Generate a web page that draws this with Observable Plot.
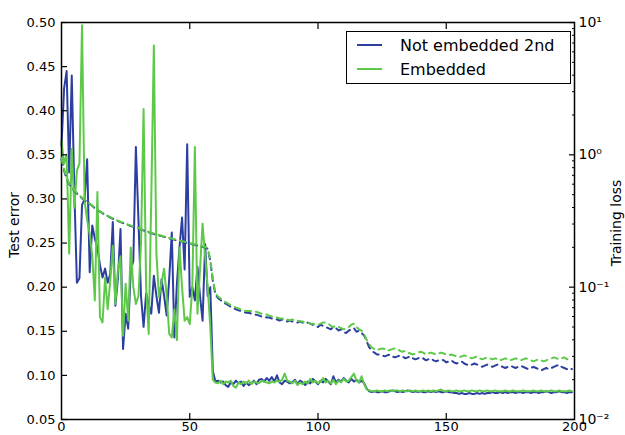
<!DOCTYPE html>
<html><head><meta charset="utf-8">
<script src="https://cdn.jsdelivr.net/npm/d3@7"></script>
<script src="https://cdn.jsdelivr.net/npm/@observablehq/plot@0.6"></script>
<style>
body{margin:0;background:#fff;}
#wrap{position:relative;width:625px;height:435px;font-family:"DejaVu Sans",sans-serif;color:#000;}
#wrap svg{position:absolute;left:0;top:0;overflow:visible;}
#legend{position:absolute;left:346px;top:31px;width:223px;height:51px;border:1px solid #000;background:#fff;z-index:5;font-size:16px;}
#legend .row{position:absolute;left:0;height:20px;display:flex;align-items:center;}
#legend .sw{width:25px;height:2.2px;margin-left:10px;margin-right:18px;}
</style></head><body>
<div id="wrap"></div>
<script>
const seriesNames = ["Not embedded 2nd", "Embedded"];
const colors = ["#2c3fa0", "#5ec949"];
const epochs = d3.range(200);

// Test error, Not embedded 2nd (solid blue)
const testErrNotEmb = [
0.36,0.425,0.445,0.33,0.44,0.31,0.205,0.21,0.293,0.30,
0.345,0.217,0.27,0.255,0.245,0.225,0.211,0.221,0.205,0.215,
0.274,0.179,0.21,0.266,0.13,0.17,0.153,0.219,0.23,0.359,
0.276,0.19,0.155,0.193,0.18,0.17,0.213,0.19,0.171,0.209,
0.19,0.168,0.21,0.262,0.143,0.204,0.245,0.279,0.22,0.362,
0.189,0.2,0.185,0.223,0.19,0.162,0.249,0.19,0.2,0.105,
0.093,0.094,0.092,0.093,0.089,0.087,0.092,0.09,0.094,0.091,
0.093,0.088,0.092,0.089,0.091,0.094,0.09,0.095,0.096,0.093,
0.097,0.094,0.098,0.093,0.1,0.092,0.09,0.094,0.093,0.091,
0.092,0.095,0.09,0.094,0.092,0.089,0.093,0.091,0.096,0.093,
0.09,0.094,0.092,0.096,0.093,0.09,0.099,0.092,0.095,0.093,
0.097,0.094,0.092,0.096,0.093,0.095,0.092,0.094,0.091,0.085,
0.082,0.081,0.082,0.081,0.081,0.082,0.081,0.081,0.082,0.083,
0.082,0.081,0.082,0.081,0.082,0.083,0.082,0.081,0.082,0.081,
0.082,0.081,0.081,0.082,0.081,0.082,0.081,0.082,0.081,0.081,
0.082,0.081,0.081,0.080,0.080,0.079,0.080,0.079,0.079,0.080,
0.079,0.079,0.080,0.079,0.080,0.079,0.080,0.080,0.081,0.080,
0.080,0.081,0.080,0.081,0.080,0.081,0.081,0.080,0.081,0.081,
0.080,0.081,0.081,0.080,0.081,0.081,0.080,0.081,0.081,0.082,
0.081,0.080,0.081,0.081,0.082,0.081,0.081,0.080,0.081,0.081];

// Test error, Embedded (solid green)
const testErrEmb = [
0.366,0.34,0.35,0.238,0.357,0.29,0.332,0.34,0.497,0.298,
0.276,0.26,0.235,0.185,0.308,0.166,0.16,0.211,0.175,0.207,
0.247,0.181,0.22,0.235,0.145,0.204,0.162,0.245,0.2,0.181,
0.19,0.25,0.402,0.2,0.147,0.3,0.474,0.238,0.189,0.205,
0.221,0.19,0.147,0.143,0.175,0.14,0.245,0.2,0.162,0.166,
0.158,0.2,0.359,0.17,0.22,0.272,0.235,0.2,0.155,0.095,
0.092,0.091,0.094,0.09,0.093,0.092,0.094,0.088,0.086,0.092,
0.09,0.093,0.091,0.094,0.09,0.093,0.092,0.091,0.094,0.093,
0.092,0.091,0.093,0.092,0.094,0.093,0.095,0.102,0.094,0.093,
0.091,0.094,0.089,0.092,0.09,0.093,0.091,0.096,0.092,0.094,
0.091,0.093,0.097,0.092,0.094,0.091,0.095,0.09,0.094,0.092,
0.096,0.093,0.094,0.098,0.102,0.094,0.092,0.099,0.09,0.084,
0.083,0.082,0.082,0.083,0.082,0.082,0.083,0.082,0.083,0.082,
0.083,0.083,0.082,0.083,0.082,0.082,0.083,0.082,0.083,0.082,
0.082,0.083,0.082,0.083,0.082,0.083,0.082,0.083,0.084,0.082,
0.082,0.083,0.082,0.082,0.083,0.082,0.082,0.083,0.082,0.082,
0.083,0.082,0.082,0.083,0.082,0.082,0.083,0.082,0.082,0.083,
0.082,0.082,0.082,0.083,0.082,0.082,0.083,0.082,0.082,0.082,
0.083,0.082,0.082,0.082,0.083,0.082,0.082,0.083,0.082,0.082,
0.082,0.083,0.082,0.082,0.083,0.082,0.082,0.082,0.083,0.082];

// Training loss, Not embedded 2nd (dashed blue)
const trainLossNotEmb = [
0.93,0.76,0.66,0.6,0.565,0.535,0.51,0.49,0.47,0.455,
0.44,0.425,0.41,0.395,0.382,0.372,0.362,0.352,0.344,0.336,
0.329,0.322,0.316,0.31,0.305,0.3,0.295,0.29,0.286,0.282,
0.278,0.273,0.268,0.264,0.26,0.256,0.252,0.249,0.246,0.243,
0.24,0.237,0.234,0.231,0.228,0.225,0.223,0.221,0.218,0.216,
0.214,0.211,0.209,0.206,0.204,0.202,0.199,0.195,0.158,0.112,
0.088,0.083,0.08,0.077,0.075,0.073,0.071,0.07,0.068,0.067,
0.066,0.065,0.064,0.064,0.063,0.062,0.062,0.061,0.06,0.06,
0.059,0.059,0.058,0.058,0.057,0.056,0.057,0.056,0.055,0.056,
0.055,0.055,0.054,0.055,0.054,0.053,0.054,0.053,0.052,0.051,
0.05,0.052,0.051,0.05,0.049,0.048,0.05,0.049,0.047,0.048,
0.046,0.045,0.047,0.048,0.049,0.046,0.047,0.045,0.043,0.039,
0.035,0.033,0.032,0.031,0.031,0.0305,0.030,0.0305,0.031,0.030,
0.0295,0.030,0.0305,0.030,0.029,0.0295,0.030,0.029,0.0285,0.029,
0.0295,0.029,0.028,0.0285,0.029,0.028,0.0275,0.028,0.0285,0.028,
0.027,0.0275,0.028,0.027,0.0265,0.027,0.0275,0.0265,0.026,0.0255,
0.026,0.0265,0.026,0.0255,0.025,0.0255,0.026,0.0255,0.025,0.0255,
0.026,0.0255,0.025,0.0245,0.025,0.0255,0.025,0.0245,0.025,0.0255,
0.025,0.0245,0.024,0.0245,0.025,0.0245,0.024,0.0235,0.024,0.0245,
0.024,0.0245,0.025,0.0255,0.026,0.025,0.0245,0.024,0.0245,0.024];

// Training loss, Embedded (dashed green)
const trainLossEmb = [
0.95,0.78,0.67,0.61,0.57,0.54,0.515,0.494,0.474,0.458,
0.443,0.428,0.413,0.398,0.385,0.374,0.364,0.354,0.346,0.338,
0.331,0.324,0.318,0.312,0.307,0.302,0.297,0.292,0.288,0.284,
0.28,0.275,0.27,0.266,0.262,0.258,0.254,0.251,0.248,0.245,
0.242,0.239,0.236,0.233,0.23,0.227,0.225,0.222,0.22,0.218,
0.216,0.213,0.211,0.208,0.206,0.204,0.201,0.198,0.162,0.115,
0.09,0.085,0.082,0.079,0.077,0.075,0.073,0.072,0.07,0.069,
0.068,0.067,0.066,0.066,0.066,0.066,0.065,0.064,0.063,0.063,
0.062,0.061,0.06,0.06,0.059,0.058,0.058,0.057,0.057,0.056,
0.057,0.056,0.056,0.055,0.055,0.054,0.054,0.053,0.053,0.052,
0.052,0.053,0.054,0.054,0.053,0.051,0.05,0.051,0.05,0.049,
0.048,0.049,0.05,0.052,0.053,0.05,0.048,0.047,0.044,0.04,
0.037,0.035,0.034,0.0335,0.034,0.0345,0.034,0.033,0.0335,0.034,
0.0345,0.034,0.033,0.0325,0.033,0.032,0.0315,0.031,0.0315,0.032,
0.0325,0.032,0.031,0.0315,0.032,0.0315,0.031,0.0315,0.032,0.0315,
0.031,0.0305,0.031,0.0305,0.030,0.0295,0.030,0.0305,0.030,0.0295,
0.029,0.0295,0.030,0.029,0.0285,0.029,0.0295,0.029,0.0285,0.029,
0.0285,0.028,0.0285,0.029,0.0285,0.028,0.0285,0.029,0.0285,0.028,
0.0285,0.029,0.0285,0.028,0.0275,0.028,0.0285,0.028,0.0275,0.028,
0.0285,0.029,0.0295,0.029,0.0285,0.029,0.0295,0.0285,0.029,0.0285];

const xTicks = [0, 50, 100, 150, 200];
const xInnerTicks = [50, 100, 150];
const leftTicks = [0.05,0.10,0.15,0.20,0.25,0.30,0.35,0.40,0.45,0.50];
const rightTicks = [0.01, 0.1, 1, 10];
const rightTickLabels = ["10\u207B\u00B2", "10\u207B\u00B9", "10\u2070", "10\u00B9"];
const rightMinorTicks = [0.01,0.1,1].flatMap(d => [2,3,4,5,6,7,8,9].map(m => m*d));
const leftLabel = "Test error";
const rightLabel = "Training loss";

const rows = (vals, name) => epochs.map((e, i) => ({epoch: e, value: vals[i], series: name}));

const W = 625, H = 435;
const common = {
  width: W, height: H, marginTop: 22, marginRight: 51, marginBottom: 16, marginLeft: 61,
  style: {fontFamily: "DejaVu Sans", fontSize: "13px", background: "transparent", color: "#000", overflow: "visible"}
};

const p1 = Plot.plot({
  ...common,
  x: {domain: [0, 200]},
  y: {domain: [0.05, 0.5]},
  marks: [
    Plot.lineY(rows(testErrNotEmb, seriesNames[0]), {x: "epoch", y: "value", stroke: colors[0], strokeWidth: 2, strokeLinejoin: "round"}),
    Plot.lineY(rows(testErrEmb, seriesNames[1]), {x: "epoch", y: "value", stroke: colors[1], strokeWidth: 2, strokeLinejoin: "round"}),
    Plot.axisY({anchor: "left", ticks: leftTicks, tickFormat: d3.format(".2f"), tickSize: 0, tickPadding: 6, label: null, fontSize: 13}),
    Plot.axisY({anchor: "left", ticks: leftTicks, tickSize: 6, dx: 6, fill: "none", strokeWidth: 1.2}),
    Plot.axisX({anchor: "bottom", ticks: xTicks, tickSize: 0, tickPadding: 2, label: null, fontSize: 13}),
    Plot.axisX({anchor: "bottom", ticks: xInnerTicks, tickSize: 6, dy: -6, fill: "none", strokeWidth: 1.2}),
    Plot.axisX({anchor: "top", ticks: xInnerTicks, tickSize: 6, dy: 6, fill: "none", strokeWidth: 1.2}),
    Plot.text([leftLabel], {frameAnchor: "left", textAnchor: "middle", dx: -47, dy: 4, rotate: -90, fontSize: 14, fill: "#000"}),
    Plot.frame({stroke: "#000", strokeWidth: 1.5})
  ]
});

const p2 = Plot.plot({
  ...common,
  x: {domain: [0, 200], axis: null},
  y: {type: "log", domain: [0.01, 10]},
  marks: [
    Plot.lineY(rows(trainLossNotEmb, seriesNames[0]), {x: "epoch", y: "value", stroke: colors[0], strokeWidth: 2, strokeDasharray: "6,5"}),
    Plot.lineY(rows(trainLossEmb, seriesNames[1]), {x: "epoch", y: "value", stroke: colors[1], strokeWidth: 2, strokeDasharray: "6,5"}),
    Plot.axisY({anchor: "right", ticks: rightTicks, tickFormat: d => rightTickLabels[rightTicks.indexOf(d)], tickSize: 0, tickPadding: 4, label: null, fontSize: 14, textAnchor: "start"}),
    Plot.axisY({anchor: "right", ticks: rightTicks, tickSize: 6, dx: -6, fill: "none", strokeWidth: 1.2}),
    Plot.axisY({anchor: "right", ticks: rightMinorTicks, tickSize: 3, dx: -3, fill: "none", strokeWidth: 1}),
    Plot.text([rightLabel], {frameAnchor: "right", textAnchor: "middle", dx: 42, dy: 2, rotate: -90, fontSize: 14, fill: "#000"})
  ]
});

const wrap = document.getElementById("wrap");
wrap.appendChild(p1);
wrap.appendChild(p2);

const legend = document.createElement("div");
legend.id = "legend";
seriesNames.forEach((name, i) => {
  const row = document.createElement("div");
  row.className = "row";
  row.style.top = (3 + i * 24) + "px";
  const sw = document.createElement("div");
  sw.className = "sw";
  sw.style.background = colors[i];
  const label = document.createElement("span");
  label.textContent = name;
  row.appendChild(sw);
  row.appendChild(label);
  legend.appendChild(row);
});
wrap.appendChild(legend);
</script>
</body></html>
